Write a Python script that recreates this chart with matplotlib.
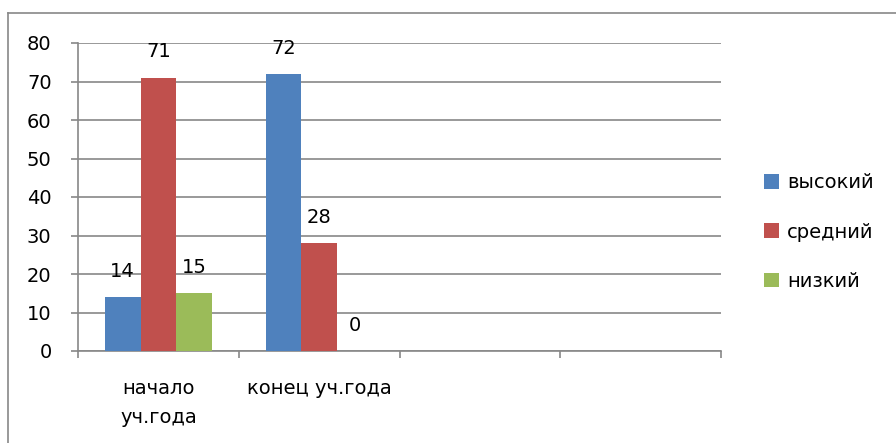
import matplotlib
matplotlib.use("Agg")
import matplotlib.pyplot as plt
from matplotlib.lines import Line2D
from matplotlib.patches import Patch
import numpy as np

categories = ["начало\nуч.года", "конец уч.года", "", ""]
series_names = ["высокий", "средний", "низкий"]
vysokiy = [14, 72, None, None]
sredniy = [71, 28, None, None]
nizkiy = [15, 0, None, None]
colors = ["#4F81BD", "#C0504D", "#9BBB59"]
yticks = [0, 10, 20, 30, 40, 50, 60, 70, 80]

plt.rcParams['font.family'] = ['DejaVu Sans']
FS = 14
W, H = 896, 443
fig = plt.figure(figsize=(W/100, H/100), dpi=100)
ax = fig.add_axes([78/W, 1-351/H, (721-78)/W, (351-43)/H])

n = len(categories)
x = np.arange(n)
bw = 0.222
grey = "#888888"
all_series = [vysokiy, sredniy, nizkiy]
for i, (vals, c) in enumerate(zip(all_series, colors)):
    xs = [xi + (i-1)*bw for xi, v in zip(x, vals) if v is not None]
    vs = [v for v in vals if v is not None]
    ax.bar(xs, vs, width=bw, color=c, zorder=3)
    for xx, v in zip(xs, vs):
        ax.annotate(str(v), (xx, v), xytext=(0, 18.5), textcoords='offset points',
                    ha='center', va='center', fontsize=FS, color='black')

ax.set_xlim(-0.5, n-0.5)
ax.set_ylim(0, 80)
ax.set_yticks(yticks)
ax.set_yticklabels([str(t) for t in yticks], fontsize=FS)
ax.grid(axis='y', color=grey, linewidth=1.2, zorder=0)
ax.set_axisbelow(True)
ax.set_xticks(np.arange(-0.5, n, 1.0))
ax.set_xticklabels([])
ax.tick_params(axis='both', color=grey, length=5, width=1.2)
ax.tick_params(axis='y', pad=14)
for xi, lab in zip(x, categories):
    ax.text(xi, -7.3, lab, ha='center', va='top', fontsize=FS, linespacing=1.65)
for s in ['top', 'right']:
    ax.spines[s].set_visible(False)
for s in ['left', 'bottom']:
    ax.spines[s].set_color(grey)
    ax.spines[s].set_linewidth(1.2)

handles = [Patch(facecolor=c, label=nm) for c, nm in zip(colors, series_names)]
fig.legend(handles=handles, loc='center left', bbox_to_anchor=(764/W, 1-232/H),
           frameon=False, fontsize=FS, handlelength=0.78, handleheight=0.78,
           handletextpad=0.4, labelspacing=1.55, borderpad=0, borderaxespad=0)

fig.add_artist(Line2D([8/W, 1], [1-13/H, 1-13/H], color=grey, linewidth=1.2, transform=fig.transFigure))
fig.add_artist(Line2D([8/W, 8/W], [0, 1-13/H], color=grey, linewidth=1.2, transform=fig.transFigure))

fig.savefig("out.png", dpi=100)
